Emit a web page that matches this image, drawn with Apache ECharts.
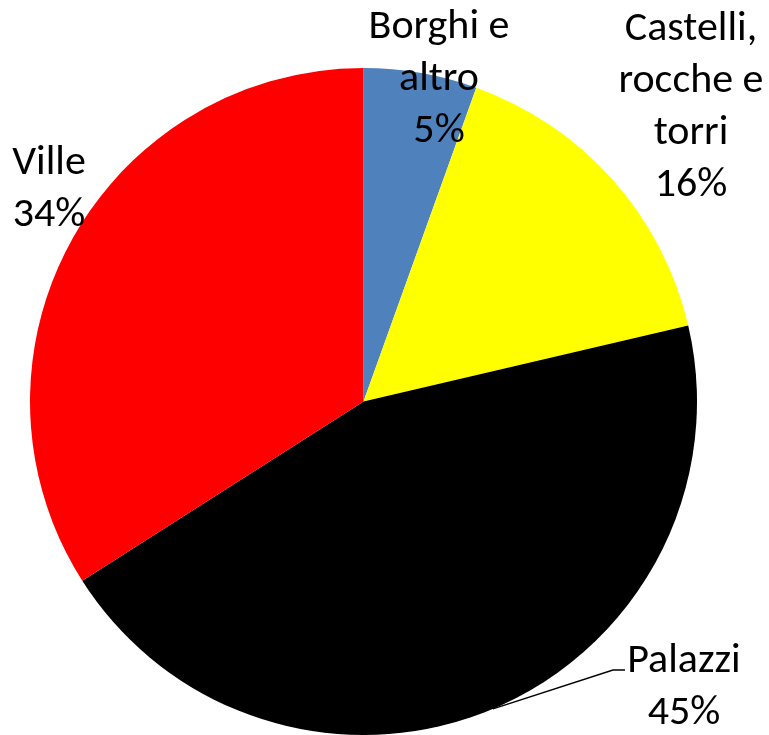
<!DOCTYPE html>
<html>
<head>
<meta charset="utf-8">
<script src="https://cdn.jsdelivr.net/npm/echarts@6/dist/echarts.min.js"></script>
<style>
html,body{margin:0;padding:0;background:#fff;}
#chart{width:769px;height:735px;}
</style>
</head>
<body>
<div id="chart"></div>
<script>
// Data (share of total, %)
const categories = ['Borghi e\naltro', 'Castelli,\nrocche e\ntorri', 'Palazzi', 'Ville'];
const values = [5.49, 15.85, 44.63, 34.03];

// Styles / positions (kept separate from data)
const colors = ['#4F81BD', '#FFFF00', '#000000', '#FF0000'];
const labelPos = [[439, 79], [691, 107], [684, 687], [49, 189]];
const showLine = [false, false, true, false];

const chart = echarts.init(document.getElementById('chart'), null, {renderer: 'canvas'});
const FONT = 'Carlito, Lato, "Noto Sans", sans-serif';

chart.setOption({
  animation: false,
  backgroundColor: '#ffffff',
  series: [{
    type: 'pie',
    center: [363.5, 401.5],
    radius: 333.5,
    startAngle: 90,
    clockwise: true,
    avoidLabelOverlap: false,
    data: categories.map((c, i) => ({
      name: c,
      value: values[i],
      itemStyle: {color: colors[i], borderWidth: 0},
      labelLine: {show: showLine[i]}
    })),
    label: {
      show: true,
      position: 'outside',
      color: '#000',
      fontFamily: FONT,
      fontSize: 42,
      lineHeight: 52,
      align: 'center',
      formatter: p => p.name + '\n' + Math.round(p.percent) + '%'
    },
    labelLine: {
      lineStyle: {color: '#000', width: 1.5}
    },
    labelLayout: function (params) {
      const i = params.dataIndex;
      const res = {
        x: labelPos[i][0],
        y: labelPos[i][1],
        align: 'center',
        verticalAlign: 'middle'
      };
      if (showLine[i] && params.labelLinePoints) {
        const s = params.labelLinePoints[0];
        const lx = labelPos[i][0] - 59;
        const ly = labelPos[i][1] - 17;
        res.labelLinePoints = [s, [lx - 12, ly], [lx, ly]];
      }
      return res;
    }
  }]
});
</script>
</body>
</html>
